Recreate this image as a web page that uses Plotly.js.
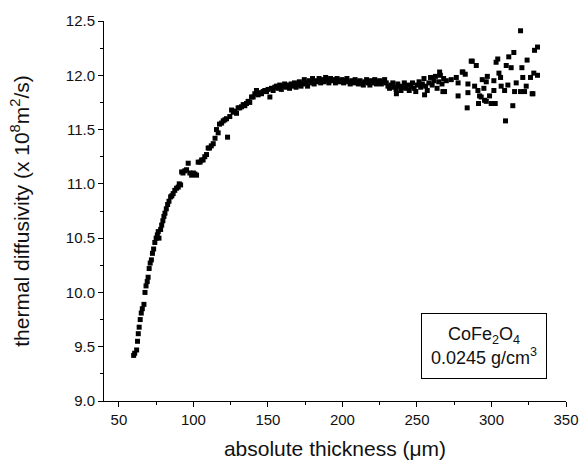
<!DOCTYPE html>
<html>
<head>
<meta charset="utf-8">
<script src="https://cdn.plot.ly/plotly-3.0.1.min.js"></script>
<style>html,body{margin:0;padding:0;background:#fff;}#chart{width:580px;height:469px;}</style>
</head>
<body>
<div id="chart"></div>
<script>
// absolute thickness (µm)
const thickness = [
59.9,60.6,61.9,62.5,63.0,63.6,64.3,65.0,65.7,66.8,67.5,68.2,69.0,69.6,70.3,71.0,71.8,72.5,73.3,74.1,
75.0,75.8,76.4,76.9,78.0,78.7,79.5,80.2,80.9,81.8,82.7,83.6,84.7,85.5,86.4,87.5,88.7,89.8,90.5,91.4,
92.1,93.0,94.2,95.4,96.5,97.6,98.8,100.0,101.0,102.1,103.2,104.5,105.5,106.5,107.6,108.8,109.9,110.8,112.0,113.3,
114.5,115.5,116.6,117.5,118.9,120.0,121.1,122.2,122.9,124.4,125.6,126.7,127.8,128.9,130.0,131.1,132.3,133.4,134.5,135.6,
136.7,137.8,139.0,140.1,141.2,142.3,143.4,144.5,145.7,146.8,147.9,149.0,150.1,151.3,152.4,153.5,154.6,155.7,
156.8,157.9,159.0,160.1,161.2,162.3,163.4,164.5,165.6,166.7,167.8,168.9,170.0,171.1,172.2,173.3,174.4,175.5,176.6,177.7,
178.8,179.9,181.0,182.1,183.2,184.3,185.4,186.5,187.6,188.7,189.8,190.9,192.0,193.1,194.2,195.3,196.4,197.5,198.6,199.7,
200.8,201.9,203.0,204.1,205.2,206.3,207.4,208.5,209.6,210.7,211.8,212.9,214.0,215.1,216.2,217.3,218.4,219.5,220.6,221.7,
222.8,223.9,225.0,226.1,227.2,228.3,229.4,230.5,231.6,232.7,233.8,234.9,236.0,236.2,237.1,238.2,239.3,240.4,241.5,242.6,
243.7,244.8,245.9,247.0,248.1,249.2,250.3,251.4,252.5,253.6,254.7,255.1,255.8,256.9,258.0,259.1,260.2,261.3,262.4,263.5,
264.6,265.2,265.7,266.8,267.4,267.9,268.5,269.7,273.0,276.4,277.6,277.6,280.4,280.8,282.4,283.7,284.2,284.2,286.4,287.1,
288.7,289.8,290.9,291.3,292.0,293.1,293.8,294.9,295.3,296.5,296.5,297.2,298.7,299.8,301.6,301.6,302.5,303.1,304.2,305.0,
306.1,306.5,308.8,309.4,309.9,311.0,311.6,313.2,314.3,315.0,315.5,316.6,319.5,319.5,320.4,321.0,322.2,323.3,323.9,326.2,
327.3,327.8,328.4,328.9,330.9,330.9
];
// thermal diffusivity (x 10^8 m^2/s)
const diffusivity = [
9.42,9.44,9.47,9.55,9.62,9.68,9.75,9.81,9.85,9.89,10.00,10.06,10.10,10.14,10.22,10.27,10.30,10.36,10.40,10.46,
10.50,10.53,10.56,10.50,10.58,10.62,10.66,10.70,10.73,10.77,10.81,10.84,10.88,10.89,10.91,10.94,10.96,10.97,11.00,10.99,
11.11,11.10,11.12,11.13,11.19,11.10,11.08,11.10,11.09,11.08,11.20,11.20,11.22,11.22,11.25,11.27,11.33,11.33,11.35,11.37,
11.42,11.50,11.47,11.55,11.56,11.58,11.59,11.60,11.43,11.62,11.68,11.66,11.67,11.65,11.70,11.70,11.71,11.73,11.72,11.74,
11.76,11.75,11.80,11.80,11.83,11.86,11.82,11.84,11.83,11.85,11.86,11.85,11.87,11.80,11.88,11.86,11.89,11.90,
11.88,11.91,11.87,11.90,11.92,11.89,11.91,11.88,11.92,11.90,11.93,11.89,11.91,11.94,11.90,11.92,11.96,11.93,11.90,11.95,
11.93,11.97,11.92,11.95,11.94,11.97,11.93,11.96,11.94,11.98,11.95,11.93,11.97,11.95,11.96,11.93,11.97,11.95,11.94,11.96,
11.93,11.95,11.97,11.94,11.92,11.95,11.93,11.96,11.94,11.92,11.95,11.93,11.91,11.94,11.96,11.93,11.91,11.95,11.93,11.96,
11.92,11.94,11.95,11.92,11.94,11.96,11.93,11.90,11.88,11.91,11.93,11.89,11.87,11.83,11.92,11.90,11.86,11.89,11.93,11.88,
11.91,11.86,11.90,11.93,11.88,11.85,11.91,11.94,11.89,11.92,11.97,11.82,11.90,11.86,11.93,11.98,11.91,11.95,11.99,11.88,
11.94,12.03,12.00,11.92,11.85,11.97,11.85,11.95,11.96,11.98,11.93,11.81,12.03,12.03,12.01,11.70,11.92,11.84,12.13,12.13,
11.90,12.09,11.86,11.74,11.81,11.80,11.96,11.88,11.77,11.94,11.76,11.99,11.81,11.74,11.95,11.86,11.74,12.12,12.15,12.02,
11.98,11.90,11.86,11.58,12.09,11.91,12.17,12.07,11.72,12.21,11.85,11.93,12.41,11.85,12.07,11.98,11.85,11.90,12.14,11.98,
11.83,11.83,12.02,12.23,12.26,12.00
];

const xTickVals = [50,100,150,200,250,300,350];
const yTickVals = [9.0,9.5,10.0,10.5,11.0,11.5,12.0,12.5];

const font = {family: '"Liberation Sans", Arial, sans-serif', color: '#111'};

const trace = {
  x: thickness, y: diffusivity, type: 'scatter', mode: 'markers',
  marker: {symbol: 'square', size: 5, color: '#000', line: {width: 0}},
  hoverinfo: 'x+y'
};

const layout = {
  width: 580, height: 469,
  margin: {l: 104, r: 14, t: 21, b: 68},
  paper_bgcolor: '#fff', plot_bgcolor: '#fff',
  showlegend: false,
  font: Object.assign({size: 15}, font),
  xaxis: {
    range: [40, 350], tickvals: xTickVals, ticktext: xTickVals.map(String),
    showgrid: false, zeroline: false, showline: true, linecolor: '#000', linewidth: 1,
    ticks: 'outside', ticklen: 5, tickcolor: '#000', tickwidth: 1,
    minor: {dtick: 25, tick0: 25, ticks: 'outside', ticklen: 3, tickcolor: '#000', showgrid: false},
    tickfont: Object.assign({size: 15}, font),
    title: {text: 'absolute thickness (μm)', font: Object.assign({size: 21}, font), standoff: 14}
  },
  yaxis: {
    range: [9.0, 12.5], tickvals: yTickVals, ticktext: yTickVals.map(v => v.toFixed(1)),
    showgrid: false, zeroline: false, showline: true, linecolor: '#000', linewidth: 1,
    ticks: 'outside', ticklen: 5, tickcolor: '#000', tickwidth: 1,
    minor: {dtick: 0.25, tick0: 9.25, ticks: 'outside', ticklen: 3, tickcolor: '#000', showgrid: false},
    tickfont: Object.assign({size: 15}, font),
    title: {text: 'thermal diffusivity (x 10<sup>8</sup>m<sup>2</sup>/s)', font: Object.assign({size: 21}, font), standoff: 30}
  },
  annotations: [{
    xref: 'paper', yref: 'paper', x: 0.823, y: 0.145, xanchor: 'center', yanchor: 'middle',
    text: 'CoFe<sub>2</sub>O<sub>4</sub><br>0.0245 g/cm<sup>3</sup>',
    showarrow: false, align: 'center', width: 120, height: 60,
    font: Object.assign({size: 18}, font),
    bordercolor: '#000', borderwidth: 1, borderpad: 2, bgcolor: '#fff'
  }]
};

Plotly.newPlot('chart', [trace], layout, {staticPlot: true, displayModeBar: false});
</script>
</body>
</html>
